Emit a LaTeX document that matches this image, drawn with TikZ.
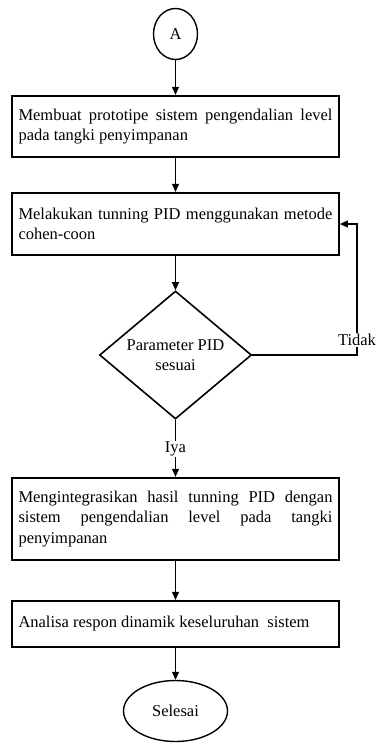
\documentclass[tikz,border=0pt]{standalone}
\usepackage{fontspec}
\setmainfont{Liberation Serif}
\usetikzlibrary{shapes.geometric,arrows.meta}
\hyphenpenalty=10000
\exhyphenpenalty=10000
\tolerance=9999
\def\teks{\fontsize{16.5}{20.6}\selectfont}
\tikzset{
	proses/.style={draw, line width=1.8pt, text width=314pt, inner xsep=6.5pt, inner ysep=0pt, align=justify, font=\teks},
	terminal/.style={draw, ellipse, line width=1.4pt, inner sep=0pt, font=\teks},
	keputusan/.style={draw, diamond, line width=1.6pt, inner sep=0pt, aspect=1.18, minimum width=152pt, minimum height=128pt, align=center, font=\teks},
	label/.style={fill=white, inner sep=1pt, font=\teks},
	garis/.style={line width=1.1pt},
	panah/.style={line width=1.1pt, -{Triangle[width=7pt,length=8pt]}}
}

\begin{document}
\begin{tikzpicture}[x=1pt,y=-1pt]
				\useasboundingbox (0,0) rectangle (376,744);
				
				\node[terminal, minimum width=44pt, minimum height=51pt] (A) at (175.5,34) {A};
				\node[proses, minimum height=61.5pt] (prototipe) at (175.5,126.5) {Membuat prototipe sistem pengendalian level pada tangki penyimpanan};
				\node[proses, minimum height=62.5pt] (tuning) at (175.5,224) {Melakukan tunning PID menggunakan metode cohen-coon};
				\node[keputusan] (cek) at (175.5,355) {Parameter PID\\sesuai};
				\node[label] (tidak) at (357,340) {Tidak};
				\node[label] (iya) at (175.5,449) {Iya};
				\node[proses, minimum height=82.5pt] (integrasi) at (175.5,519) {Mengintegrasikan hasil tunning PID dengan sistem pengendalian level pada tangki penyimpanan};
				\node[proses, minimum height=46.5pt] (analisa) at (175.5,624) {Analisa respon dinamik keseluruhan\ \ sistem};
				\node[terminal, minimum width=104pt, minimum height=61pt] (selesai) at (175.5,711) {Selesai};
				
				\draw[panah] (A) -- (prototipe);
				\draw[panah] (prototipe) -- (tuning);
				\draw[panah] (tuning) -- (cek);
				\draw[garis] (cek) -- (iya);
				\draw[panah] (iya) -- (integrasi);
				\draw[panah] (integrasi) -- (analisa);
				\draw[panah] (analisa) -- (selesai);
				
				\draw[garis] (cek.east) -| (tidak.south);
				\draw[panah] (tidak.north) |- (tuning.east);
			\end{tikzpicture}
\end{document}
